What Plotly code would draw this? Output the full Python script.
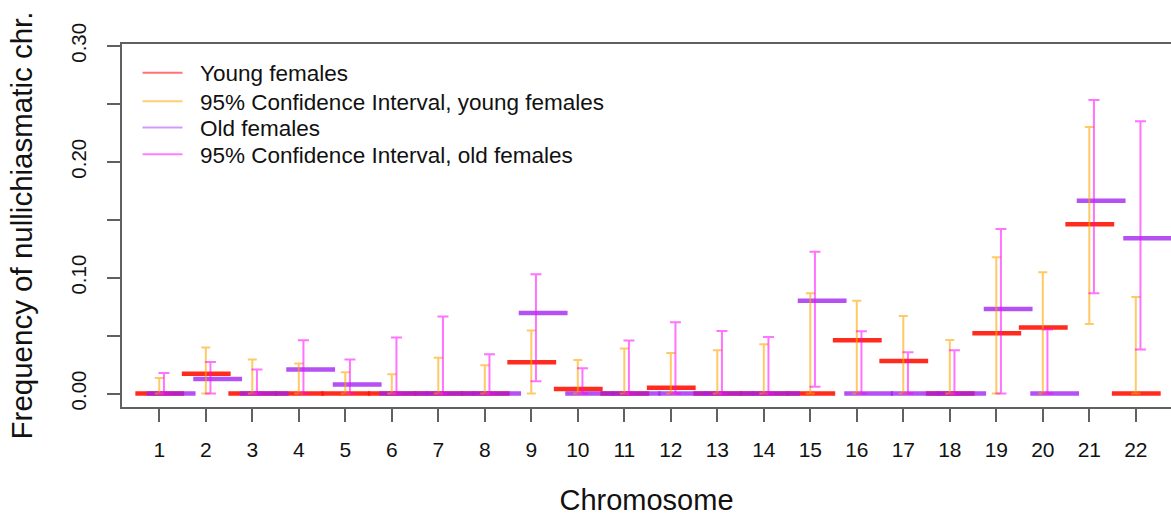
import plotly.graph_objects as go

chromosomes = list(range(1, 23))
tick_labels = [str(c) for c in chromosomes]

young_mean = [0, 0.017, 0, 0, 0, 0, 0, 0, 0.027, 0.004, 0, 0.005, 0, 0, 0,
              0.046, 0.028, 0, 0.052, 0.057, 0.146, 0]
young_lo = [0, 0, 0, 0, 0, 0, 0, 0, 0, 0, 0, 0, 0, 0, 0,
            0, 0, 0, 0, 0, 0.060, 0]
young_hi = [0.0135, 0.0397, 0.0293, 0.026, 0.0184, 0.0167, 0.031, 0.0244, 0.0543, 0.029, 0.0388,
            0.035, 0.0374, 0.0425, 0.0865, 0.080, 0.067, 0.0463, 0.1175, 0.1046, 0.230, 0.0834]

old_mean = [0, 0.0126, 0, 0.0207, 0.0078, 0, 0, 0, 0.0695, 0, 0, 0, 0, 0, 0.080,
            0, 0, 0, 0.073, 0, 0.1664, 0.134]
old_lo = [0, 0, 0, 0, 0, 0, 0, 0, 0.0106, 0, 0, 0, 0, 0, 0.0058,
          0, 0, 0, 0, 0, 0.0865, 0.038]
old_hi = [0.0178, 0.0273, 0.0207, 0.046, 0.0293, 0.0483, 0.0664, 0.0339, 0.103, 0.0218, 0.0457,
          0.0615, 0.054, 0.0489, 0.1224, 0.0537, 0.0356, 0.0374, 0.142, 0.0552, 0.2532, 0.235]

y_tickvals = [0, 0.05, 0.10, 0.15, 0.20, 0.25, 0.30]
y_ticktext = ["0.00", "", "0.10", "", "0.20", "", "0.30"]

legend_names = ["Young females", "95% Confidence Interval, young females",
                "Old females", "95% Confidence Interval, old females"]

# style constants
RED = "rgba(255,20,5,0.9)"
PURPLE = "rgba(160,32,240,0.78)"
ORANGE = "rgba(255,165,0,0.6)"
PINK = "rgba(255,0,255,0.55)"
FONT = "Liberation Sans, Arial, Helvetica, sans-serif"
AX = "#606060"

Y_L, Y_R = -0.515, 0.535
O_L, O_R = -0.27, 0.78
PINK_DX = 0.1
LEGEND_PAD = "\u00a0\u00a0"


def segments(xc, vals, left, right):
    xs, ys = [], []
    for c, v in zip(xc, vals):
        xs += [c + left, c + right, None]
        ys += [v, v, None]
    return xs, ys


fig = go.Figure()

xs, ys = segments(chromosomes, young_mean, Y_L, Y_R)
fig.add_trace(go.Scatter(x=xs, y=ys, mode="lines", line=dict(color=RED, width=4.5),
                         showlegend=False, hoverinfo="skip"))
xs, ys = segments(chromosomes, old_mean, O_L, O_R)
fig.add_trace(go.Scatter(x=xs, y=ys, mode="lines", line=dict(color=PURPLE, width=4.5),
                         showlegend=False, hoverinfo="skip"))

fig.add_trace(go.Scatter(
    x=chromosomes, y=young_mean, mode="markers",
    marker=dict(size=1, color="rgba(0,0,0,0)"),
    error_y=dict(type="data", symmetric=False,
                 array=[h - m for h, m in zip(young_hi, young_mean)],
                 arrayminus=[m - l for m, l in zip(young_mean, young_lo)],
                 color=ORANGE, thickness=2, width=4.5),
    showlegend=False, hoverinfo="skip"))

fig.add_trace(go.Scatter(
    x=[c + PINK_DX for c in chromosomes], y=old_mean, mode="markers",
    marker=dict(size=1, color="rgba(0,0,0,0)"),
    error_y=dict(type="data", symmetric=False,
                 array=[h - m for h, m in zip(old_hi, old_mean)],
                 arrayminus=[m - l for m, l in zip(old_mean, old_lo)],
                 color=PINK, thickness=2, width=5.5),
    showlegend=False, hoverinfo="skip"))

legend_colors = ["rgba(255,0,0,0.55)", "rgba(255,165,0,0.55)",
                 "rgba(160,32,240,0.45)", "rgba(255,0,255,0.5)"]
legend_ids = ["legend", "legend2", "legend3", "legend4"]
legend_rows = [0.920, 0.841, 0.7686, 0.695]

for name, col, lid in zip(legend_names, legend_colors, legend_ids):
    fig.add_trace(go.Scatter(x=[None], y=[None], mode="lines", name=LEGEND_PAD + name,
                             line=dict(color=col, width=2), legend=lid))

leg_common = dict(x=0.0148, xanchor="left", yanchor="middle", bgcolor="rgba(0,0,0,0)",
                  borderwidth=0, font=dict(family=FONT, size=22.5, color="#111"),
                  itemwidth=40)
layout_legends = {}
for lid, yy in zip(legend_ids, legend_rows):
    layout_legends[lid] = dict(leg_common, y=yy)

fig.update_layout(
    width=1171, height=516,
    margin=dict(l=122, r=0, t=44, b=109),
    paper_bgcolor="white", plot_bgcolor="white",
    font=dict(family=FONT, color="#111"),
    **layout_legends,
    xaxis=dict(range=[0.198, 22.757], tickvals=chromosomes, ticktext=tick_labels,
               showgrid=False, zeroline=False, showline=True, linecolor=AX, linewidth=2,
               mirror=True, ticks="outside", ticklen=13, tickwidth=1.5, tickcolor=AX,
               tickfont=dict(size=21, family=FONT, color="#111"), ticklabelstandoff=10,
               title=dict(text="Chromosome", font=dict(size=29, family=FONT, color="#111"),
                          standoff=29)),
    yaxis=dict(range=[-0.0116, 0.3016], tickvals=y_tickvals, ticktext=y_ticktext,
               showgrid=False, zeroline=False, showline=True, linecolor=AX, linewidth=2,
               ticks="outside", ticklen=13, tickwidth=1.5, tickcolor=AX, tickangle=-90,
               tickfont=dict(size=20.5, family=FONT, color="#111"), ticklabelstandoff=13,
               title=dict(text="Frequency of nullichiasmatic chr.",
                          font=dict(size=29.5, family=FONT, color="#111"), standoff=25)),
)

fig.write_html("out.html")
